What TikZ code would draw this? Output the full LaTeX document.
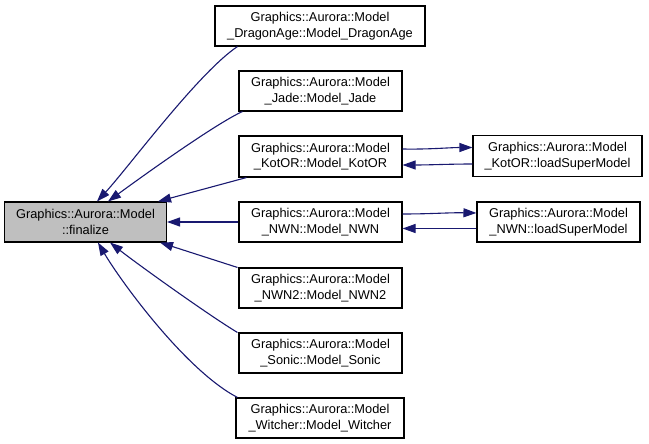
\documentclass[tikz,border=0pt]{standalone}
\usepackage{fontspec}
\setmainfont{Liberation Sans}
\usetikzlibrary{arrows.meta}
\definecolor{edgeblue}{RGB}{25,25,112}
\definecolor{fingray}{RGB}{191,191,191}
\tikzset{
  box/.style={draw=black, line width=1.1pt, rectangle, inner sep=0pt, align=center,
    font=\fontsize{12.8}{15.4}\selectfont, minimum height=40pt},
  edge/.style={draw=edgeblue, line width=1.1pt, -{Triangle[length=13pt,width=9pt]}}
}
\begin{document}
\begin{tikzpicture}[x=1pt,y=-1pt]
\useasboundingbox (0,0) rectangle (649,444);
\node[box, fill=fingray, minimum width=162pt] (fin) at (85.5,222) {Graphics::Aurora::Model\\::finalize};
\node[box, minimum width=210pt] (da) at (320,26) {Graphics::Aurora::Model\\\_DragonAge::Model\_DragonAge};
\node[box, minimum width=163pt] (jade) at (320.5,91) {Graphics::Aurora::Model\\\_Jade::Model\_Jade};
\node[box, minimum width=163pt, minimum height=41pt] (kotor) at (320.5,156.5) {Graphics::Aurora::Model\\\_KotOR::Model\_KotOR};
\node[box, minimum width=163pt] (nwn) at (320.5,222) {Graphics::Aurora::Model\\\_NWN::Model\_NWN};
\node[box, minimum width=163pt] (nwn2) at (320.5,288) {Graphics::Aurora::Model\\\_NWN2::Model\_NWN2};
\node[box, minimum width=163pt] (sonic) at (320.5,353) {Graphics::Aurora::Model\\\_Sonic::Model\_Sonic};
\node[box, minimum width=168pt] (witcher) at (320,418) {Graphics::Aurora::Model\\\_Witcher::Model\_Witcher};
\node[box, minimum width=169pt, minimum height=41pt] (kl) at (557.5,156) {Graphics::Aurora::Model\\\_KotOR::loadSuperModel};
\node[box, minimum width=163pt] (nl) at (558.5,222) {Graphics::Aurora::Model\\\_NWN::loadSuperModel};

\draw[edge] ([xshift=23pt]da.south west) .. controls (198,73) and (128,168) .. ([xshift=11.5pt]fin.north);
\draw[edge] ([xshift=4pt]jade.south west) .. controls (215,124) and (140,178) .. ([xshift=22.5pt]fin.north);
\draw[edge] ([xshift=8pt]kotor.south west) -- ([xshift=-9pt]fin.north east);
\draw[edge] (nwn.west) -- (fin.east);
\draw[edge] ([xshift=-1pt]nwn2.north west) -- ([xshift=-7pt]fin.south east);
\draw[edge] ([xshift=-1pt]sonic.north west) .. controls (210,316) and (140,266) .. ([xshift=24.5pt]fin.south);
\draw[edge] ([xshift=2pt]witcher.north west) .. controls (185,370) and (120,280) .. ([xshift=12.5pt]fin.south);

\draw[edge] ([yshift=7.5pt]kotor.east) .. controls (430,149.5) and (450,147.5) .. ([yshift=8.5pt]kl.west);
\draw[edge] ([yshift=-8pt]kl.west) .. controls (450,164) and (430,165) .. ([yshift=-8.5pt]kotor.east);
\draw[edge] ([yshift=8pt]nwn.east) .. controls (430,214) and (450,212.5) .. ([yshift=9pt]nl.west);
\draw[edge] ([yshift=-6.5pt]nl.west) .. controls (450,228.5) and (430,228.5) .. ([yshift=-6.5pt]nwn.east);
\end{tikzpicture}
\end{document}
